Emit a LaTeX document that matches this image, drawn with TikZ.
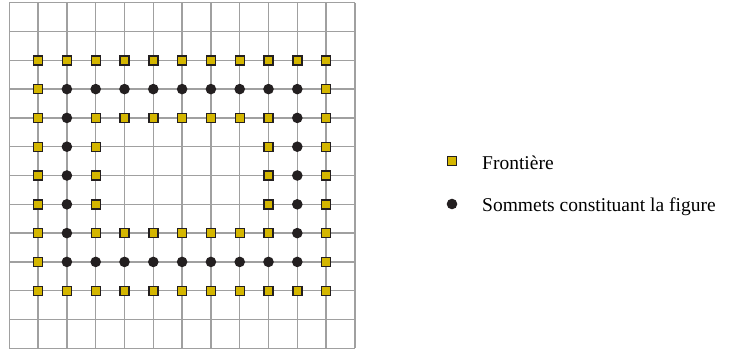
\documentclass[tikz,border=0pt]{standalone}
\usepackage{fontspec}
\setmainfont{Liberation Serif}
\definecolor{gridgray}{RGB}{160,160,160}
\definecolor{frontyellow}{RGB}{212,182,0}
\definecolor{darkpt}{RGB}{35,31,32}
\tikzset{
  gridline/.style={draw=gridgray, line width=1.4pt},
  frontsq/.style={draw=darkpt, fill=frontyellow, line width=1.4pt, minimum size=9pt, inner sep=0pt, rectangle},
  vertexdot/.style={fill=darkpt, circle, minimum size=10.6pt, inner sep=0pt},
  legendtext/.style={font=\fontsize{19.5}{22}\selectfont, inner sep=0pt, anchor=base west}
}
\begin{document}
\begin{tikzpicture}[x=1pt,y=-1pt]
\useasboundingbox (0,0) rectangle (730,349);
\fill[white] (0,0) rectangle (730,349);
% grid
\foreach \i in {0,...,12} {
  \draw[gridline] (9.3+28.8*\i,2.7) -- (9.3+28.8*\i,348.3);
  \draw[gridline] (9.3,2.7+28.8*\i) -- (355,2.7+28.8*\i);
}
% points: frontier squares and vertex dots
\newcommand{\sq}[2]{\node[frontsq] (s-#1-#2) at (9.3+28.8*#1,2.7+28.8*#2) {};}
\newcommand{\dt}[2]{\node[vertexdot] (d-#1-#2) at (9.3+28.8*#1,2.7+28.8*#2) {};}
% row 2 and row 10
\foreach \i in {1,...,11} { \sq{\i}{2} \sq{\i}{10} }
% row 3 and row 9
\foreach \j in {3,9} {
  \sq{1}{\j} \sq{11}{\j}
  \foreach \i in {2,...,10} { \dt{\i}{\j} }
}
% row 4 and row 8
\foreach \j in {4,8} {
  \sq{1}{\j} \dt{2}{\j} \dt{10}{\j} \sq{11}{\j}
  \foreach \i in {3,...,9} { \sq{\i}{\j} }
}
% rows 5-7
\foreach \j in {5,6,7} {
  \sq{1}{\j} \dt{2}{\j} \sq{3}{\j} \sq{9}{\j} \dt{10}{\j} \sq{11}{\j}
}
% legend
\node[frontsq] (legsq) at (452,161) {};
\node[legendtext] (legfront) at (482,169) {Frontière};
\node[vertexdot] (legdot) at (452,204) {};
\node[legendtext] (legsomm) at (482,211) {Sommets constituant la figure};
\end{tikzpicture}
\end{document}
